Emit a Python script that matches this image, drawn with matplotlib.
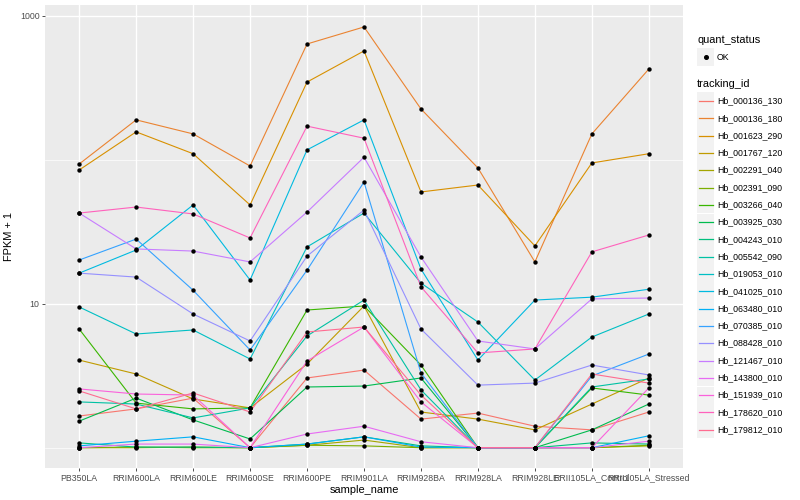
import numpy as np
import matplotlib
matplotlib.use("Agg")
import matplotlib.pyplot as plt
from matplotlib.patches import Rectangle
from matplotlib.lines import Line2D

plt.rcParams['font.family'] = ['Liberation Sans', 'DejaVu Sans']

samples = ['PB350LA', 'RRIM600LA', 'RRIM600LE', 'RRIM600SE', 'RRIM600PE', 'RRIM901LA',
           'RRIM928BA', 'RRIM928LA', 'RRIM928LE', 'RRII105LA_Control', 'RRII105LA_Stressed']

tracking_ids = ['Hb_000136_130', 'Hb_000136_180', 'Hb_001623_290', 'Hb_001767_120',
                'Hb_002291_040', 'Hb_002391_090', 'Hb_003266_040', 'Hb_003925_030',
                'Hb_004243_010', 'Hb_005542_090', 'Hb_019053_010', 'Hb_041025_010',
                'Hb_063480_010', 'Hb_070385_010', 'Hb_088428_010', 'Hb_121467_010',
                'Hb_143800_010', 'Hb_151939_010', 'Hb_178620_010', 'Hb_179812_010']

# FPKM + 1 for each tracking id, one value per sample
fpkm = {
    'Hb_000136_130': [1.66, 1.86, 2.21, 1.0, 3.05, 3.46, 1.58, 1.74, 1.41, 1.33, 1.77],
    'Hb_000136_180': [93.3, 189, 151, 90.4, 636, 835, 225, 87.6, 19.5, 151, 426],
    'Hb_001623_290': [84.8, 156, 110, 48.5, 346, 569, 59.7, 66.7, 25.2, 94.9, 110],
    'Hb_001767_120': [4.06, 3.25, 2.18, 1.89, 3.81, 9.64, 1.77, 1.58, 1.33, 2.01, 3.05],
    'Hb_002291_040': [1.0, 1.0, 1.01, 1.0, 1.04, 1.13, 1.0, 1.0, 1.0, 1.0, 1.03],
    'Hb_002391_090': [1.0, 1.01, 1.0, 1.0, 1.04, 1.03, 1.0, 1.0, 1.0, 1.0, 1.04],
    'Hb_003266_040': [6.67, 2.04, 1.86, 1.89, 9.04, 9.64, 3.75, 1.0, 1.0, 2.60, 2.32],
    'Hb_003925_030': [1.53, 2.21, 1.56, 1.15, 2.64, 2.68, 3.05, 1.0, 1.0, 1.33, 2.01],
    'Hb_004243_010': [1.08, 1.01, 1.01, 1.0, 1.06, 1.19, 1.03, 1.0, 1.0, 1.08, 1.06],
    'Hb_005542_090': [2.08, 2.01, 1.61, 1.89, 5.97, 10.6, 2.52, 1.0, 1.0, 2.64, 3.00],
    'Hb_019053_010': [9.49, 6.16, 6.57, 4.13, 24.8, 42.6, 13.9, 7.46, 2.95, 5.87, 8.48],
    'Hb_041025_010': [16.3, 23.6, 48.5, 14.6, 117, 189, 17.4, 4.06, 10.6, 11.1, 12.6],
    'Hb_063480_010': [1.03, 1.11, 1.19, 1.0, 1.06, 1.19, 1.01, 1.0, 1.0, 1.0, 1.21],
    'Hb_070385_010': [20.1, 28.1, 12.4, 4.77, 17.1, 70.0, 3.30, 1.0, 1.0, 3.15, 4.47],
    'Hb_088428_010': [16.3, 15.3, 8.48, 5.51, 21.4, 44.7, 6.67, 2.72, 2.81, 3.75, 3.20],
    'Hb_121467_010': [42.6, 24.0, 23.2, 19.5, 43.3, 104, 21.1, 5.51, 4.85, 10.8, 10.95],
    'Hb_143800_010': [1.0, 1.06, 1.06, 1.0, 1.245, 1.41, 1.10, 1.0, 1.0, 1.0, 1.11],
    'Hb_151939_010': [2.56, 2.36, 2.32, 1.0, 4.00, 6.89, 2.08, 1.0, 1.0, 1.0, 2.60],
    'Hb_178620_010': [42.6, 46.9, 42.0, 28.6, 171, 141, 13.1, 4.55, 4.85, 22.9, 30.0],
    'Hb_179812_010': [2.48, 1.86, 2.40, 1.77, 6.36, 6.89, 2.32, 1.0, 1.0, 3.25, 2.81],
}

# ggplot2 default hue palette for 20 levels
colors = ['#F8766D', '#EA8331', '#D89000', '#C09B00', '#A3A500', '#7CAE00', '#39B600',
          '#00BB4E', '#00BF7D', '#00C1A3', '#00BFC4', '#00BAE0', '#00B0F6', '#35A2FF',
          '#9590FF', '#C77CFF', '#E76BF3', '#FA62DB', '#FF62BC', '#FF6C91']

W, H = 800, 500
fig = plt.figure(figsize=(8, 5), dpi=100)
ax = fig.add_axes([45 / W, 1 - 468 / H, (683 - 45) / W, (468 - 5) / H])
ax.set_facecolor('#EBEBEB')
for s in ax.spines.values():
    s.set_visible(False)

x = np.arange(len(samples))
for tid, col in zip(tracking_ids, colors):
    ax.plot(x, fpkm[tid], color=col, lw=0.8, zorder=3)
for tid in tracking_ids:
    ax.scatter(x, fpkm[tid], s=10, color='black', zorder=4, linewidths=0)

ax.set_yscale('log')
ax.set_ylim(0.723, 1186)
ax.set_xlim(-0.6, len(samples) - 0.4)
ax.set_yticks([10, 1000])
ax.set_yticklabels(['10', '1000'])
ax.set_yticks([1, 100], minor=True)
ax.set_xticks(x)
ax.set_xticklabels(samples)
ax.tick_params(which='major', length=2.5, width=0.6, color='#333333',
               labelsize=6.3, labelcolor='#4D4D4D', pad=1.5)
ax.tick_params(which='minor', length=0)
ax.yaxis.set_minor_formatter(matplotlib.ticker.NullFormatter())
ax.grid(which='major', color='white', lw=1.0, zorder=1)
ax.grid(which='minor', axis='y', color='white', lw=0.5, zorder=1)
ax.set_axisbelow(True)

ax.set_xlabel('sample_name', fontsize=7.9, labelpad=2)
ax.set_ylabel('FPKM + 1', fontsize=7.9, labelpad=4)

# legends drawn by hand in figure pixels
def fx(px):
    return px / W

def fy(py):
    return 1 - py / H

key_x0, key_w = 697, 17
fig.text(fx(697), fy(40), 'quant_status', fontsize=7.9, va='center', ha='left')
fig.add_artist(Rectangle((fx(key_x0), fy(57 + 8.6)), key_w / W, 17.2 / H,
                         transform=fig.transFigure, facecolor='#F2F2F2', edgecolor='none'))
fig.add_artist(Line2D([fx(key_x0 + key_w / 2)], [fy(57)], marker='o', markersize=2.6,
                      color='black', transform=fig.transFigure, linestyle='none'))
fig.text(fx(717), fy(57), 'OK', fontsize=6.3, va='center', ha='left')

fig.text(fx(697), fy(84), 'tracking_id', fontsize=7.9, va='center', ha='left')
for i, (tid, col) in enumerate(zip(tracking_ids, colors)):
    yc = 101 + 17.3 * i
    fig.add_artist(Rectangle((fx(key_x0), fy(yc + 8.6)), key_w / W, 17.2 / H,
                             transform=fig.transFigure, facecolor='#F2F2F2', edgecolor='none'))
    fig.add_artist(Line2D([fx(key_x0 + 1.5), fx(key_x0 + key_w - 1.5)], [fy(yc), fy(yc)],
                          color=col, lw=0.9, transform=fig.transFigure))
    fig.text(fx(717), fy(yc), tid, fontsize=6.3, va='center', ha='left')

fig.savefig('out.png', dpi=100)
